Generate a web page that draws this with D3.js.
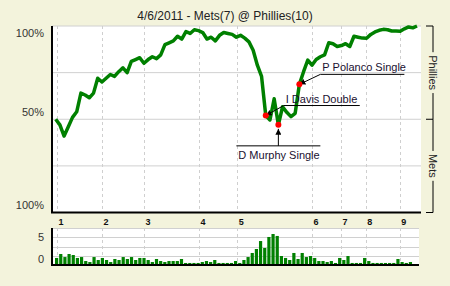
<!DOCTYPE html>
<html>
<head>
<meta charset="utf-8">
<script src="https://cdn.jsdelivr.net/npm/d3@7"></script>
<style>
  body { margin: 0; background: #f3f3dc; }
  svg { display: block; font-family: "Liberation Sans", Arial, sans-serif; }
</style>
</head>
<body>
<script>
const width = 450;
const height = 286;

const title = "4/6/2011 - Mets(7) @ Phillies(10)";

// Phillies win probability after each plate appearance
const winProb = [
  0.5, 0.47, 0.41, 0.46, 0.51, 0.54, 0.64, 0.63, 0.615, 0.64,
  0.72, 0.7, 0.72, 0.74, 0.73, 0.755, 0.776, 0.75, 0.81, 0.82,
  0.83, 0.8, 0.82, 0.835, 0.825, 0.845, 0.9, 0.91, 0.92, 0.945,
  0.93, 0.97, 0.96, 0.98, 0.975, 0.965, 0.93, 0.94, 0.92, 0.95,
  0.965, 0.96, 0.955, 0.94, 0.95, 0.935, 0.915, 0.87, 0.79, 0.73,
  0.52, 0.496, 0.61, 0.47, 0.567, 0.537, 0.514, 0.532, 0.687, 0.755,
  0.817, 0.79, 0.82, 0.835, 0.845, 0.91, 0.905, 0.89, 0.895, 0.905,
  0.89, 0.945, 0.94, 0.935, 0.934, 0.955, 0.968, 0.977, 0.982, 0.98,
  0.973, 0.973, 0.972, 0.985, 0.995, 0.99, 1.0
];

// leverage of each plate appearance
const leverage = [
  0.76, 1.19, 0.86, 1.19, 1.08, 0.76, 0.86, 0.43, 0.32, 0.86,
  0.54, 0.76, 0.54, 0.32, 0.65, 0.54, 0.86, 0.65, 0.86, 0.54,
  0.76, 0.76, 0.54, 0.32, 0.65, 0.43, 0.32, 0.43, 0.43, 0.43,
  0.65, 0.22, 0.22, 0.22, 0.22, 0.32, 0.43, 0.32, 0.54, 0.22,
  0.22, 0.22, 0.22, 0.43, 0.22, 0.54, 0.86, 1.3, 1.73, 2.59,
  1.84, 3.03, 3.35, 3.14, 0.97, 0.76, 0.54, 1.3, 0.65, 1.3,
  0.86, 0.97, 0.76, 0.43, 0.43, 0.32, 0.43, 0.22, 0.76, 0.54,
  0.97, 0.22, 0.22, 0.22, 0.76, 0.43, 0.22, 0.22, 0.22, 0.22,
  0.22, 0.22, 0.65, 0.32, 0.22, 0.32
];

const innings = ["1", "2", "3", "4", "5", "6", "7", "8", "9"];
const inningStarts = [0.3, 11, 21, 34.1, 43.2, 61, 67.9, 73.8, 81.9];

const probLabels = ["100%", "50%", "100%"];
const probLabelValues = [0.96, 0.54, 0.04];
const teams = ["Phillies", "Mets"];

const levLabels = ["5", "0"];
const levLabelValues = [3.05, 0.65];

const events = ["I Davis Double", "D Murphy Single", "P Polanco Single"];
const eventIndex = [50, 53, 58];

let svg = d3
  .select("body")
  .append("svg")
  .attr("width", width)
  .attr("height", height);

let x = d3.scaleLinear().domain([0, 86]).range([55.7, 417]);
let y = d3.scaleLinear().domain([0, 1]).range([212.5, 26]);
let xBar = d3.scaleLinear().domain([0, 86]).range([55, 413]);
let yBar = d3.scaleLinear().domain([0, 4]).range([265, 228]);

svg
  .append("defs")
  .append("marker")
  .attr("id", "arrow")
  .attr("viewBox", "0 0 10 10")
  .attr("refX", 10)
  .attr("refY", 5)
  .attr("markerWidth", 6)
  .attr("markerHeight", 6)
  .attr("markerUnits", "userSpaceOnUse")
  .attr("orient", "auto")
  .append("path")
  .attr("d", "M0,0L10,5L0,10z")
  .attr("fill", "#000");

svg
  .append("text")
  .attr("x", 225)
  .attr("y", 20)
  .attr("text-anchor", "middle")
  .attr("font-size", 12)
  .attr("fill", "#222")
  .text(title);

// ---- win probability panel
let main = svg.append("g");

main
  .append("rect")
  .attr("x", 52)
  .attr("y", y(1))
  .attr("width", 421 - 52)
  .attr("height", y(0) - y(1))
  .attr("fill", "#fff");

main
  .selectAll(".hgrid")
  .data([0.25, 0.5, 0.75, 1])
  .join("line")
  .attr("x1", 52)
  .attr("x2", 421)
  .attr("y1", (d) => y(d))
  .attr("y2", (d) => y(d))
  .attr("stroke", "#d0d0d0");

main
  .selectAll(".vgrid")
  .data(inningStarts)
  .join("line")
  .attr("x1", (d) => Math.round(x(d)) + 0.5)
  .attr("x2", (d) => Math.round(x(d)) + 0.5)
  .attr("y1", y(1))
  .attr("y2", y(0))
  .attr("stroke", "#cfcfcf")
  .attr("stroke-dasharray", "3,3");

main
  .append("path")
  .attr("d", `M52,${y(1)}V${y(0)}H421`)
  .attr("fill", "none")
  .attr("stroke", "#000")
  .attr("stroke-width", 2);

main
  .append("path")
  .datum(winProb)
  .attr(
    "d",
    d3
      .line()
      .x((d, i) => x(i))
      .y((d) => y(d))
  )
  .attr("fill", "none")
  .attr("stroke", "#008000")
  .attr("stroke-width", 3.5)
  .attr("stroke-linejoin", "round");

main
  .selectAll(".ylab")
  .data(probLabels)
  .join("text")
  .attr("x", 44)
  .attr("y", (d, i) => y(probLabelValues[i]))
  .attr("dy", "0.35em")
  .attr("text-anchor", "end")
  .attr("font-size", 11)
  .attr("fill", "#333")
  .text((d) => d);

// inning axis
let inningAxis = d3
  .axisBottom(x)
  .tickValues(inningStarts)
  .tickFormat((d, i) => innings[i])
  .tickSize(0);

let axisG = svg
  .append("g")
  .attr("transform", `translate(0, ${y(0) + 3})`)
  .call(inningAxis);
axisG.select(".domain").remove();
axisG
  .selectAll("text")
  .attr("text-anchor", "start")
  .attr("dx", 1)
  .attr("font-family", "'Liberation Sans', Arial, sans-serif")
  .attr("font-size", 9)
  .attr("font-weight", "bold")
  .attr("fill", "#111");

// right side team bracket
let bracket = svg.append("g");
let bx = 433;
[1, 0.5, 0].forEach((v) => {
  bracket
    .append("line")
    .attr("x1", 426)
    .attr("x2", bx)
    .attr("y1", y(v))
    .attr("y2", y(v))
    .attr("stroke", "#000");
});

teams.forEach((team, i) => {
  let top = y(1 - i * 0.5);
  let bottom = y(0.5 - i * 0.5);
  let mid = (top + bottom) / 2;
  let t = bracket
    .append("text")
    .attr("transform", `translate(${bx - 4}, ${mid}) rotate(90)`)
    .attr("text-anchor", "middle")
    .attr("font-size", 11)
    .attr("fill", "#222")
    .text(team);
  let half = t.node().getComputedTextLength() / 2 + 3;
  bracket
    .append("line")
    .attr("x1", bx)
    .attr("x2", bx)
    .attr("y1", top)
    .attr("y2", mid - half)
    .attr("stroke", "#000");
  bracket
    .append("line")
    .attr("x1", bx)
    .attr("x2", bx)
    .attr("y1", mid + half)
    .attr("y2", bottom)
    .attr("stroke", "#000");
});

// play annotations
let notes = [
  { dx: 18, dy: -10, len: 76, below: false },
  { dx: 0, dy: 21, len: 84, below: true, xStart: -42 },
  { dx: 21, dy: -10, len: 84, below: false }
];

events.forEach((label, i) => {
  let idx = eventIndex[i];
  let px = x(idx);
  let py = y(winProb[idx]);
  let n = notes[i];
  let ax = px + n.dx;
  let ay = py + n.dy;
  let lx = n.below ? px + n.xStart : ax;
  main
    .append("line")
    .attr("x1", lx)
    .attr("x2", lx + n.len)
    .attr("y1", ay)
    .attr("y2", ay)
    .attr("stroke", "#000");
  main
    .append("line")
    .attr("x1", ax)
    .attr("y1", ay)
    .attr("x2", px)
    .attr("y2", n.below ? py + 4 : py)
    .attr("stroke", "#000")
    .attr("marker-end", "url(#arrow)");
  main
    .append("text")
    .attr("x", lx + 2)
    .attr("y", n.below ? ay + 13 : ay - 3)
    .attr("font-size", 11)
    .attr("fill", "#1a1030")
    .text(label);
});

main
  .selectAll(".dot")
  .data(eventIndex)
  .join("circle")
  .attr("cx", (d) => x(d))
  .attr("cy", (d) => y(winProb[d]))
  .attr("r", 3)
  .attr("fill", "#ff0000");

// ---- leverage panel
let lev = svg.append("g");

lev
  .append("rect")
  .attr("x", 52)
  .attr("y", yBar(4))
  .attr("width", 419 - 52)
  .attr("height", yBar(0) - yBar(4))
  .attr("fill", "#fff");

lev
  .selectAll(".hgrid")
  .data([1, 2, 3, 4])
  .join("line")
  .attr("x1", 52)
  .attr("x2", 419)
  .attr("y1", (d) => Math.round(yBar(d)) + 0.5)
  .attr("y2", (d) => Math.round(yBar(d)) + 0.5)
  .attr("stroke", "#d0d0d0");

lev
  .selectAll(".vgrid")
  .data(inningStarts)
  .join("line")
  .attr("x1", (d) => Math.round(x(d)) + 0.5)
  .attr("x2", (d) => Math.round(x(d)) + 0.5)
  .attr("y1", yBar(4))
  .attr("y2", yBar(0))
  .attr("stroke", "#cfcfcf")
  .attr("stroke-dasharray", "3,3");

lev
  .selectAll(".bar")
  .data(leverage)
  .join("rect")
  .attr("x", (d, i) => xBar(i))
  .attr("y", (d) => yBar(d))
  .attr("width", 3.2)
  .attr("height", (d) => yBar(0) - yBar(d))
  .attr("fill", "#008000");

lev
  .append("path")
  .attr("d", `M52,${yBar(4)}V${yBar(0)}H419`)
  .attr("fill", "none")
  .attr("stroke", "#000")
  .attr("stroke-width", 2);

lev
  .selectAll(".ylab")
  .data(levLabels)
  .join("text")
  .attr("x", 44)
  .attr("y", (d, i) => yBar(levLabelValues[i]))
  .attr("dy", "0.35em")
  .attr("text-anchor", "end")
  .attr("font-size", 11)
  .attr("fill", "#333")
  .text((d) => d);
</script>
</body>
</html>
